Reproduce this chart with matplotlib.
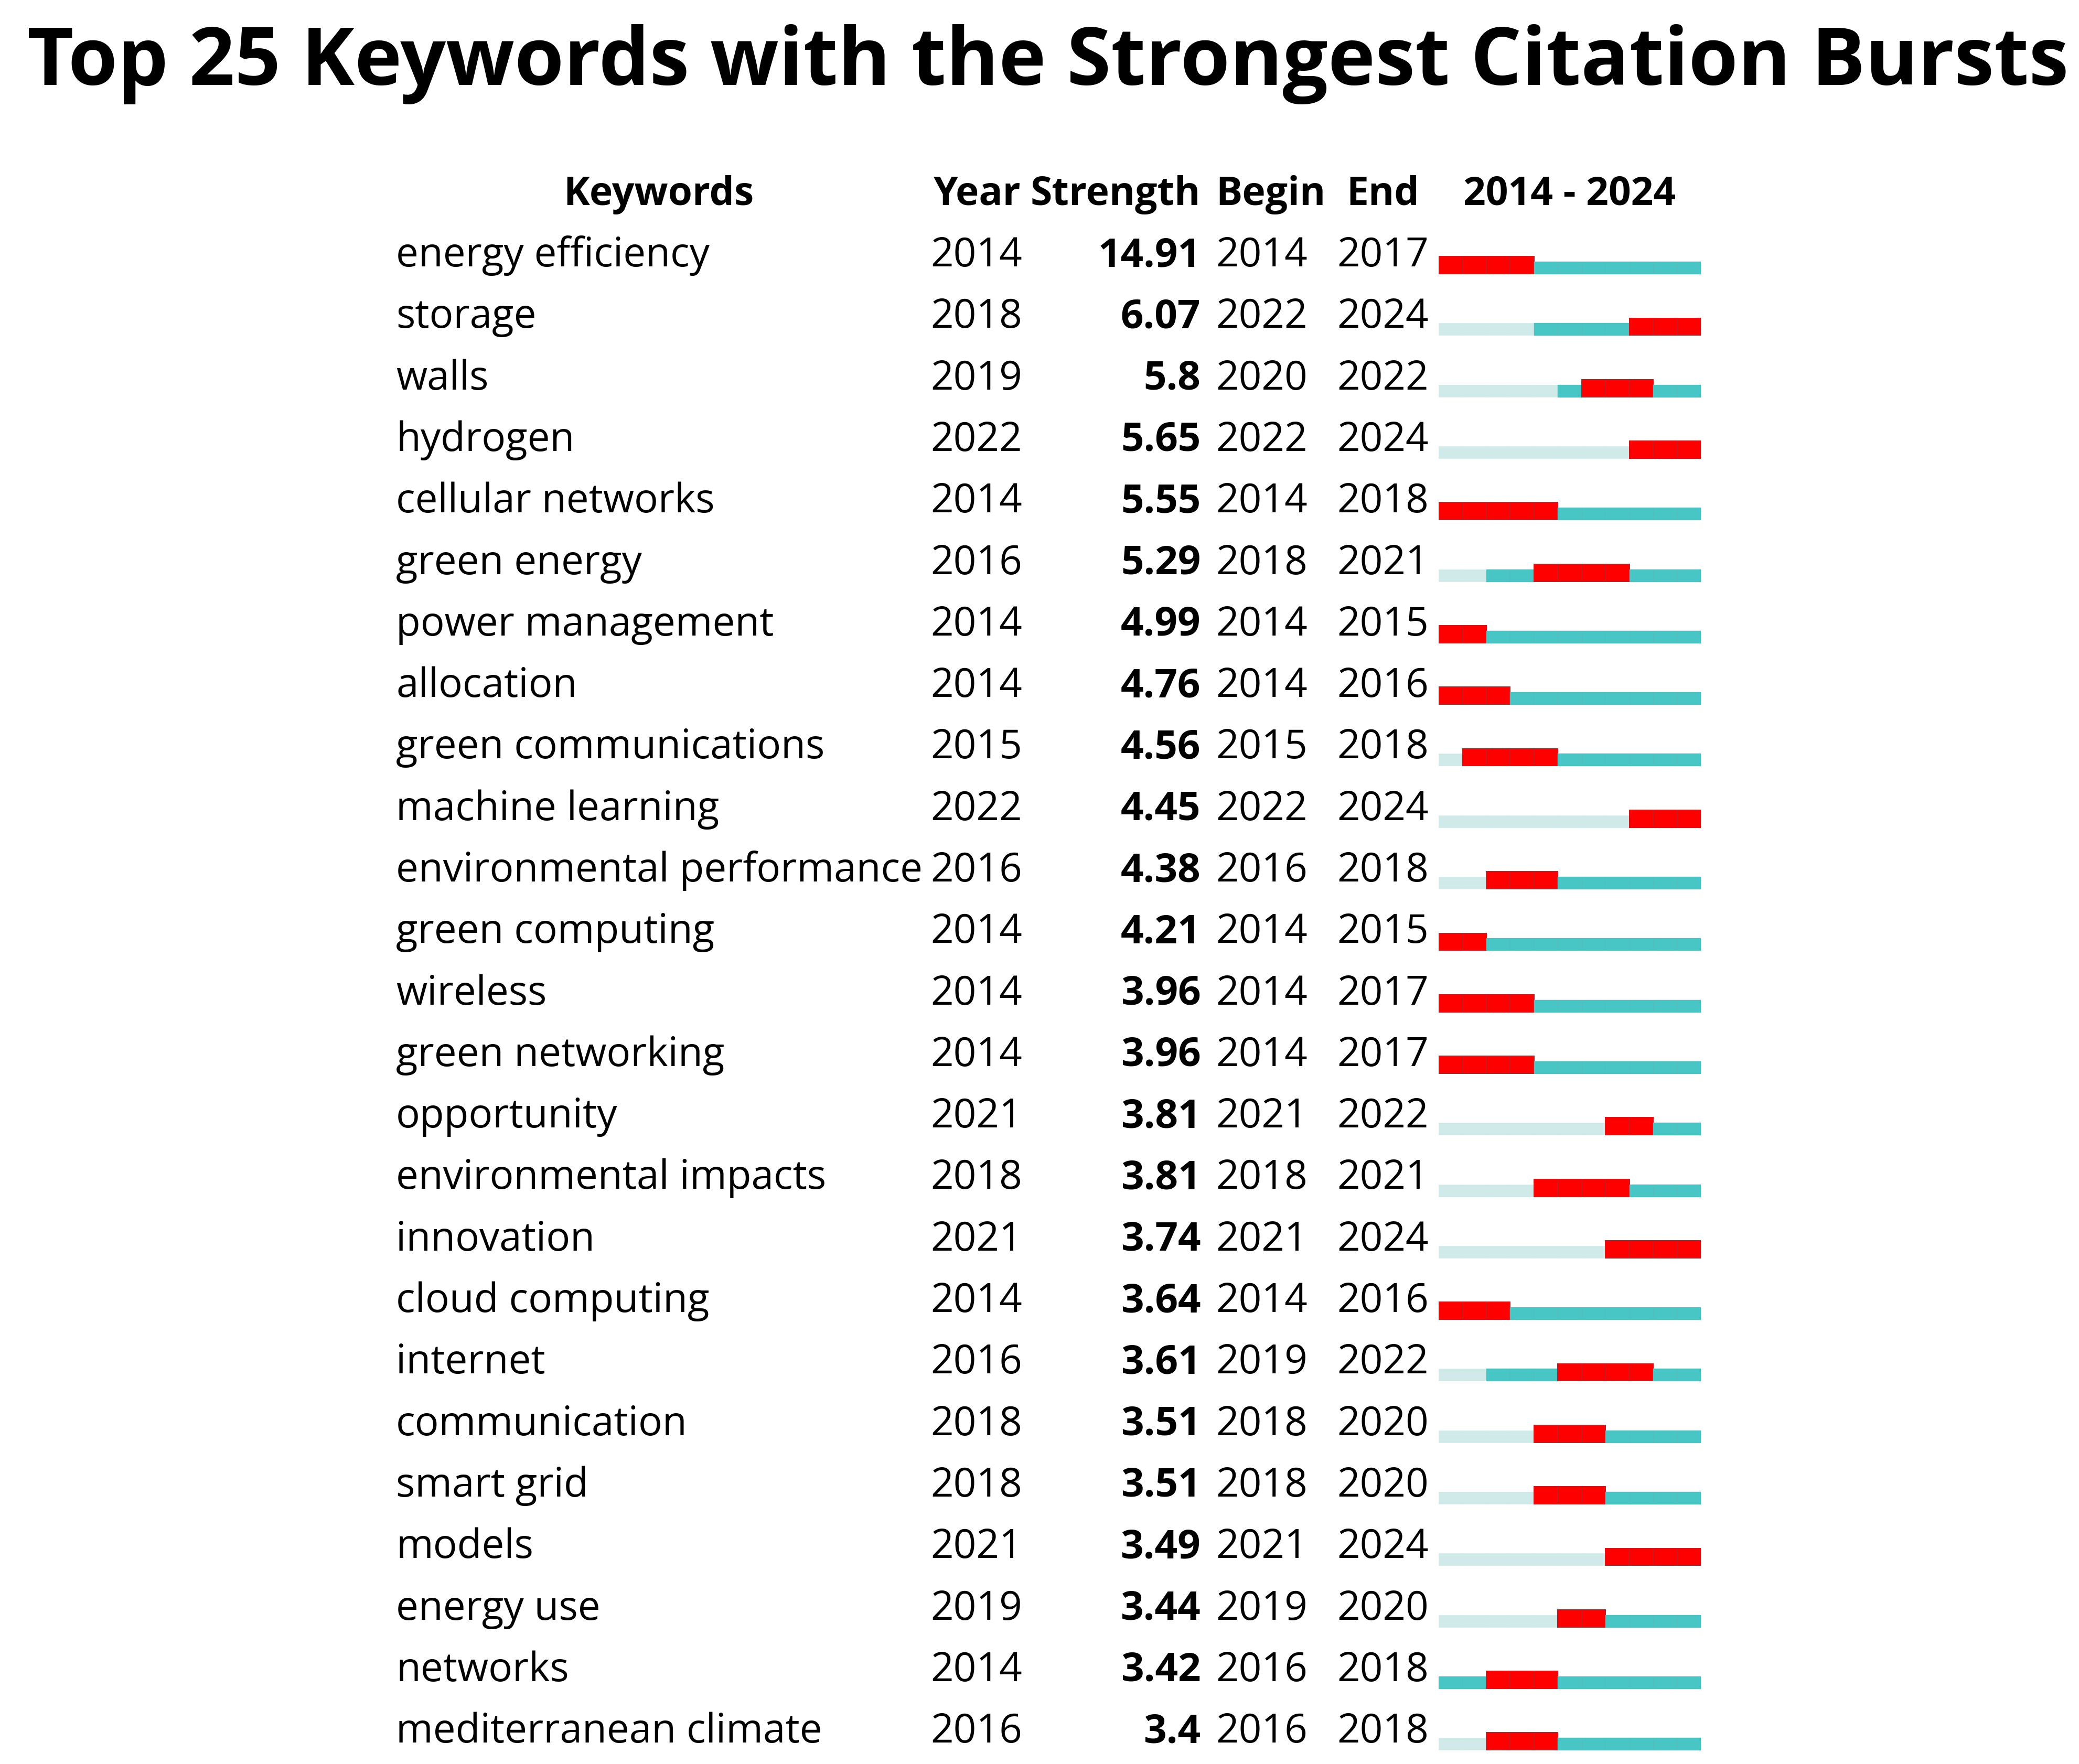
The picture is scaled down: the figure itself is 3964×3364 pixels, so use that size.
import numpy as np
import matplotlib
matplotlib.use("Agg")
import matplotlib.pyplot as plt
from matplotlib.transforms import blended_transform_factory

plt.rcParams['font.family'] = ['Open Sans', 'DejaVu Sans']

keywords = ["energy efficiency", "storage", "walls", "hydrogen", "cellular networks",
            "green energy", "power management", "allocation", "green communications",
            "machine learning", "environmental performance", "green computing", "wireless",
            "green networking", "opportunity", "environmental impacts", "innovation",
            "cloud computing", "internet", "communication", "smart grid", "models",
            "energy use", "networks", "mediterranean climate"]
first_year = [2014, 2018, 2019, 2022, 2014, 2016, 2014, 2014, 2015, 2022, 2016, 2014, 2014,
              2014, 2021, 2018, 2021, 2014, 2016, 2018, 2018, 2021, 2019, 2014, 2016]
strength = ["14.91", "6.07", "5.8", "5.65", "5.55", "5.29", "4.99", "4.76", "4.56", "4.45",
            "4.38", "4.21", "3.96", "3.96", "3.81", "3.81", "3.74", "3.64", "3.61", "3.51",
            "3.51", "3.49", "3.44", "3.42", "3.4"]
begin = [2014, 2022, 2020, 2022, 2014, 2018, 2014, 2014, 2015, 2022, 2016, 2014, 2014,
         2014, 2021, 2018, 2021, 2014, 2019, 2018, 2018, 2021, 2019, 2016, 2016]
end = [2017, 2024, 2022, 2024, 2018, 2021, 2015, 2016, 2018, 2024, 2018, 2015, 2017,
       2017, 2022, 2021, 2024, 2016, 2022, 2020, 2020, 2024, 2020, 2018, 2018]
years = np.arange(2014, 2025)

RED, TEAL, LIGHT = "#ff0000", "#48c6c6", "#d0eaea"

fig = plt.figure(figsize=(39.64, 33.64), dpi=100)
# axes spans the bar column; y in row units (row i baseline at i)
ax = fig.add_axes([0.692, 0.0, 0.1261, 1.0])
ax.set_xlim(2013.5, 2024.5)
ax.set_ylim(24.348, -4.331)
ax.axis('off')

for i in range(len(keywords)):
    for yr in years:
        if begin[i] <= yr <= end[i]:
            ax.bar(yr, -0.28, bottom=i + 0.12, width=1.0, color=RED,
                   edgecolor="#c81a1f", linewidth=1.5)
        elif yr < first_year[i]:
            ax.bar(yr, -0.196, bottom=i + 0.12, width=1.0, color=LIGHT,
                   edgecolor=LIGHT, linewidth=0.5)
        else:
            ax.bar(yr, -0.196, bottom=i + 0.12, width=1.0, color=TEAL,
                   edgecolor="#56bdbd", linewidth=1.0)

tr = blended_transform_factory(fig.transFigure, ax.transData)
fs = 55
hfs = 54

# title
ax.text(0.504, -2.95, "Top 25 Keywords with the Strongest Citation Bursts", transform=tr,
        ha='center', va='baseline', fontsize=110, fontweight='bold')

# header
ax.text(0.3169, -1.0, "Keywords", transform=tr, ha='center', va='baseline', fontsize=hfs, fontweight='bold')
ax.text(0.4697, -1.0, "Year", transform=tr, ha='center', va='baseline', fontsize=hfs, fontweight='bold')
ax.text(0.5775, -1.0, "Strength", transform=tr, ha='right', va='baseline', fontsize=hfs, fontweight='bold')
ax.text(0.5848, -1.0, "Begin", transform=tr, ha='left', va='baseline', fontsize=hfs, fontweight='bold')
ax.text(0.6652, -1.0, "End", transform=tr, ha='center', va='baseline', fontsize=hfs, fontweight='bold')
ax.text(0.755, -1.0, f"{years[0]} - {years[-1]}", transform=tr, ha='center', va='baseline',
        fontsize=hfs, fontweight='bold')

for i in range(len(keywords)):
    ax.text(0.1905, i, keywords[i], transform=tr, ha='left', va='baseline', fontsize=fs)
    ax.text(0.4697, i, str(first_year[i]), transform=tr, ha='center', va='baseline', fontsize=fs)
    ax.text(0.5775, i, strength[i], transform=tr, ha='right', va='baseline', fontsize=fs, fontweight='bold')
    ax.text(0.5848, i, str(begin[i]), transform=tr, ha='left', va='baseline', fontsize=fs)
    ax.text(0.6652, i, str(end[i]), transform=tr, ha='center', va='baseline', fontsize=fs)

fig.savefig("out.png", dpi=100, facecolor="white")
